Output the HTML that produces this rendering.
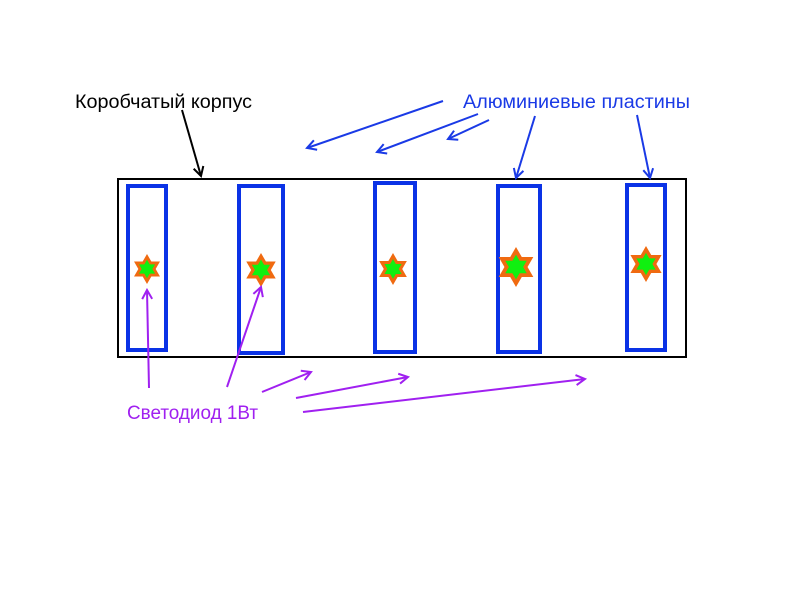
<!DOCTYPE html>
<html><head><meta charset="utf-8"><style>
html,body{margin:0;padding:0;background:#fff;}
svg{display:block}
text{font-family:"Liberation Sans",sans-serif;font-size:19px}
</style></head><body>
<svg width="800" height="600" viewBox="0 0 800 600" xmlns="http://www.w3.org/2000/svg">
<defs>
<marker id="ab" markerWidth="12" markerHeight="12" refX="10" refY="6" orient="auto" markerUnits="userSpaceOnUse"><path d="M1,1 L10,6 L1,11" fill="none" stroke="#1a3ae6" stroke-width="2"/></marker>
<marker id="ak" markerWidth="12" markerHeight="12" refX="10" refY="6" orient="auto" markerUnits="userSpaceOnUse"><path d="M1,1 L10,6 L1,11" fill="none" stroke="#000" stroke-width="2"/></marker>
<marker id="ap" markerWidth="12" markerHeight="12" refX="10" refY="6" orient="auto" markerUnits="userSpaceOnUse"><path d="M1,1 L10,6 L1,11" fill="none" stroke="#a020f0" stroke-width="2"/></marker>
<path id="hex" d="M0,-1 L0.289,-0.5 L0.866,-0.5 L0.577,0 L0.866,0.5 L0.289,0.5 L0,1 L-0.289,0.5 L-0.866,0.5 L-0.577,0 L-0.866,-0.5 L-0.289,-0.5 Z"/>
<g id="star"><use href="#hex" fill="#f06a10"/><use href="#hex" fill="#10f010" transform="scale(0.62)"/></g>
</defs>
<rect x="118" y="179" width="568" height="178" fill="none" stroke="#000" stroke-width="2"/>
<g fill="none" stroke="#0a32e6" stroke-width="4">
<rect x="128" y="186" width="38" height="164"/>
<rect x="239" y="186" width="44" height="167"/>
<rect x="375" y="183" width="40" height="169"/>
<rect x="498" y="186" width="42" height="166"/>
<rect x="627" y="185" width="38" height="165"/>
</g>
<use href="#star" transform="translate(147,269) scale(15)"/>
<use href="#star" transform="translate(261,270) scale(17)"/>
<use href="#star" transform="translate(393,269) scale(16)"/>
<use href="#star" transform="translate(516,267) scale(20)"/>
<use href="#star" transform="translate(646,264) scale(18)"/>
<text x="75" y="108" fill="#000" textLength="177" lengthAdjust="spacingAndGlyphs">Коробчатый корпус</text>
<text x="463" y="108" fill="#1a3ae6" textLength="227" lengthAdjust="spacingAndGlyphs">Алюминиевые пластины</text>
<text x="127" y="419" fill="#a020f0" textLength="131" lengthAdjust="spacingAndGlyphs">Светодиод 1Вт</text>
<g stroke="#1a3ae6" stroke-width="2" marker-end="url(#ab)">
<line x1="443" y1="101" x2="307" y2="148"/>
<line x1="478" y1="114" x2="377" y2="152"/>
<line x1="489" y1="120" x2="448" y2="139"/>
<line x1="535" y1="116" x2="516" y2="178"/>
<line x1="637" y1="115" x2="650" y2="178"/>
</g>
<line x1="182" y1="110" x2="201" y2="176" stroke="#000" stroke-width="2" marker-end="url(#ak)"/>
<g stroke="#a020f0" stroke-width="2" marker-end="url(#ap)">
<line x1="149" y1="388" x2="147" y2="290"/>
<line x1="227" y1="387" x2="261" y2="287"/>
<line x1="262" y1="392" x2="311" y2="372"/>
<line x1="296" y1="398" x2="408" y2="377"/>
<line x1="303" y1="412" x2="585" y2="379"/>
</g>
</svg>
</body></html>
